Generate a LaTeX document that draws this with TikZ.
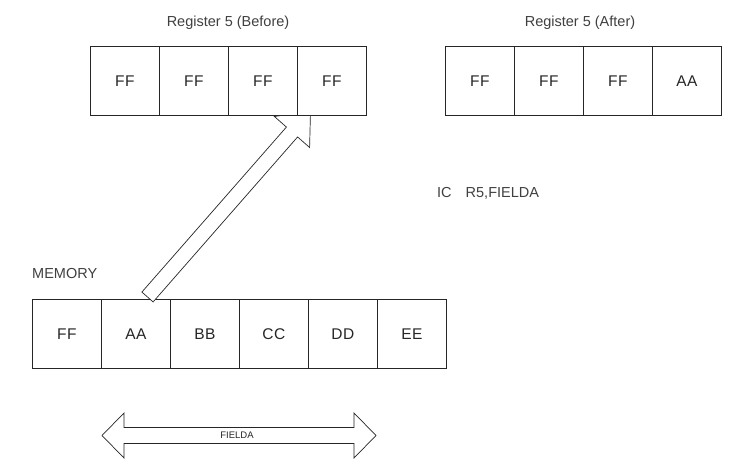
\documentclass[tikz,border=0pt]{standalone}
\usepackage{fontspec}
\setmainfont{Liberation Sans}
\newfontfamily\cellfont[LetterSpace=3]{Liberation Sans}
\begin{document}
\begin{tikzpicture}[x=1pt,y=-1pt,
  cell/.style={draw=black!85, line width=0.8pt, fill=white, minimum width=69pt, minimum height=69pt, inner sep=0pt, anchor=north west, font=\cellfont\fontsize{15.5}{17}\selectfont, text=black!85},
  title/.style={font=\fontsize{14.5}{16}\selectfont, text=black!75, inner sep=0pt},
  fat/.style={draw=black!85, line width=0.7pt, fill=white, line join=miter}]
\fill[white] (0,0) rectangle (739,471);
\useasboundingbox (0,0) rectangle (739,471);
% titles
\node[title] (tb) at (228,23) {Register 5 (Before)};
\node[title] (ta) at (580,23) {Register 5 (After)};
\node[title, anchor=west] (mem) at (32,274) {MEMORY};
\node[title, anchor=west] (ic) at (437,193) {IC\hspace{14pt}R5,FIELDA};
% memory
\node[cell] (m1) at (32,299) {FF};
\node[cell] (m2) at (101,299) {AA};
\node[cell] (m3) at (170,299) {BB};
\node[cell] (m4) at (239,299) {CC};
\node[cell] (m5) at (308,299) {DD};
\node[cell] (m6) at (377,299) {EE};
% diagonal arrow from memory AA to register
\coordinate (tl) at (141.9,292.05);
\coordinate (tr) at (153.1,301.95);
\coordinate (sl) at (286.4,127.05);
\coordinate (sr) at (297.6,136.95);
\coordinate (wl) at (274.4,116.5);
\coordinate (wr) at (309.6,147.5);
\coordinate (tip) at (310.5,111);
\draw[fat] (tl) -- (sl) -- (wl) -- (tip) -- (wr) -- (sr) -- (tr) -- cycle;
% register before
\node[cell] (b1) at (90,46) {FF};
\node[cell] (b2) at (159,46) {FF};
\node[cell] (b3) at (228,46) {FF};
\node[cell] (b4) at (297,46) {FF};
% register after
\node[cell] (a1) at (445,46) {FF};
\node[cell] (a2) at (514,46) {FF};
\node[cell] (a3) at (583,46) {FF};
\node[cell] (a4) at (652,46) {AA};
% FIELDA double arrow
\draw[fat] (102,435.5) -- (124,413) -- (124,427.5) -- (354,427.5) -- (354,413) -- (376,435.5)
  -- (354,458) -- (354,443.5) -- (124,443.5) -- (124,458) -- cycle;
\node[font=\fontsize{9.5}{11}\selectfont, text=black!85, inner sep=0pt] (fa) at (237,435.5) {FIELDA};
\end{tikzpicture}
\end{document}
